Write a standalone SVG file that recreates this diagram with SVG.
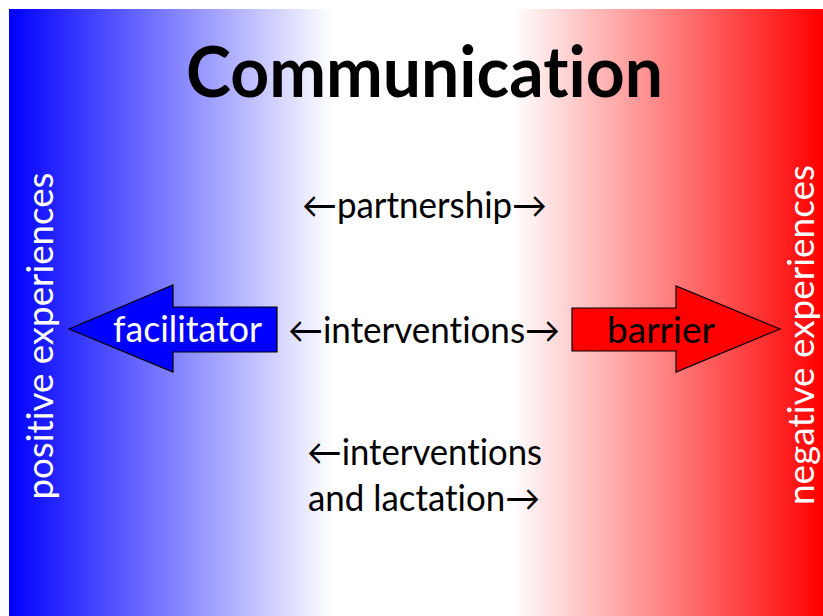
<svg xmlns="http://www.w3.org/2000/svg" width="823" height="616" viewBox="0 0 823 616">
  <defs>
    <linearGradient id="bg" x1="0" y1="0" x2="1" y2="0">
      <stop offset="0" stop-color="#0000FF"/>
      <stop offset="0.398" stop-color="#FFFFFF"/>
      <stop offset="0.618" stop-color="#FFFFFF"/>
      <stop offset="1" stop-color="#FF0000"/>
    </linearGradient>
    <style>
      text { font-variant-ligatures: none; font-feature-settings: "liga" 0, "clig" 0; }
      .t { font-family: Lato, "Open Sans", "DejaVu Sans", sans-serif; font-size: 36px; fill: #000; }
      .w { fill: #FFFFFF; }
      .title { font-family: Lato, "Open Sans", sans-serif; font-weight: bold; font-size: 70px; fill: #000; }
      .arrow { stroke: #000; stroke-width: 1.2; stroke-linejoin: miter; }
    </style>
  </defs>
  <rect x="0" y="0" width="823" height="616" fill="#FFFFFF"/>
  <rect id="background" x="9" y="9" width="814" height="607" fill="url(#bg)"/>

  <g id="title">
    <text class="title" x="186" y="97" textLength="477" lengthAdjust="spacingAndGlyphs">Communication</text>
  </g>

  <g id="positive">
    <text class="t w" x="53" y="336" text-anchor="middle" transform="rotate(-90 53 336)" textLength="327" lengthAdjust="spacingAndGlyphs">positive experiences</text>
  </g>
  <g id="negative">
    <text class="t w" x="814" y="335" text-anchor="middle" transform="rotate(-90 814 335)" textLength="340" lengthAdjust="spacingAndGlyphs">negative experiences</text>
  </g>

  <g id="facilitator">
    <polygon class="arrow" fill="#0000FF" points="69,329 173,285 173,307 277,307 277,352 173,352 173,372"/>
    <text class="t w" x="113" y="342" textLength="149" lengthAdjust="spacingAndGlyphs">facilitator</text>
  </g>

  <g id="barrier">
    <polygon class="arrow" fill="#FF0000" points="572,308 676,308 676,286 780,329 676,372 676,351 572,351"/>
    <text class="t" x="607" y="343" textLength="108" lengthAdjust="spacingAndGlyphs">barrier</text>
  </g>

  <g id="connectors">
    <g id="partnership">
      <text class="t" x="302" y="218" textLength="245" lengthAdjust="spacingAndGlyphs">←partnership→</text>
    </g>
    <g id="interventions">
      <text class="t" x="288" y="343" textLength="272" lengthAdjust="spacingAndGlyphs">←interventions→</text>
    </g>
    <g id="interventions-lactation">
      <text class="t" x="307" y="465" textLength="235" lengthAdjust="spacingAndGlyphs">←interventions</text>
      <text class="t" x="308" y="511" textLength="232" lengthAdjust="spacingAndGlyphs">and lactation→</text>
    </g>
  </g>
</svg>
